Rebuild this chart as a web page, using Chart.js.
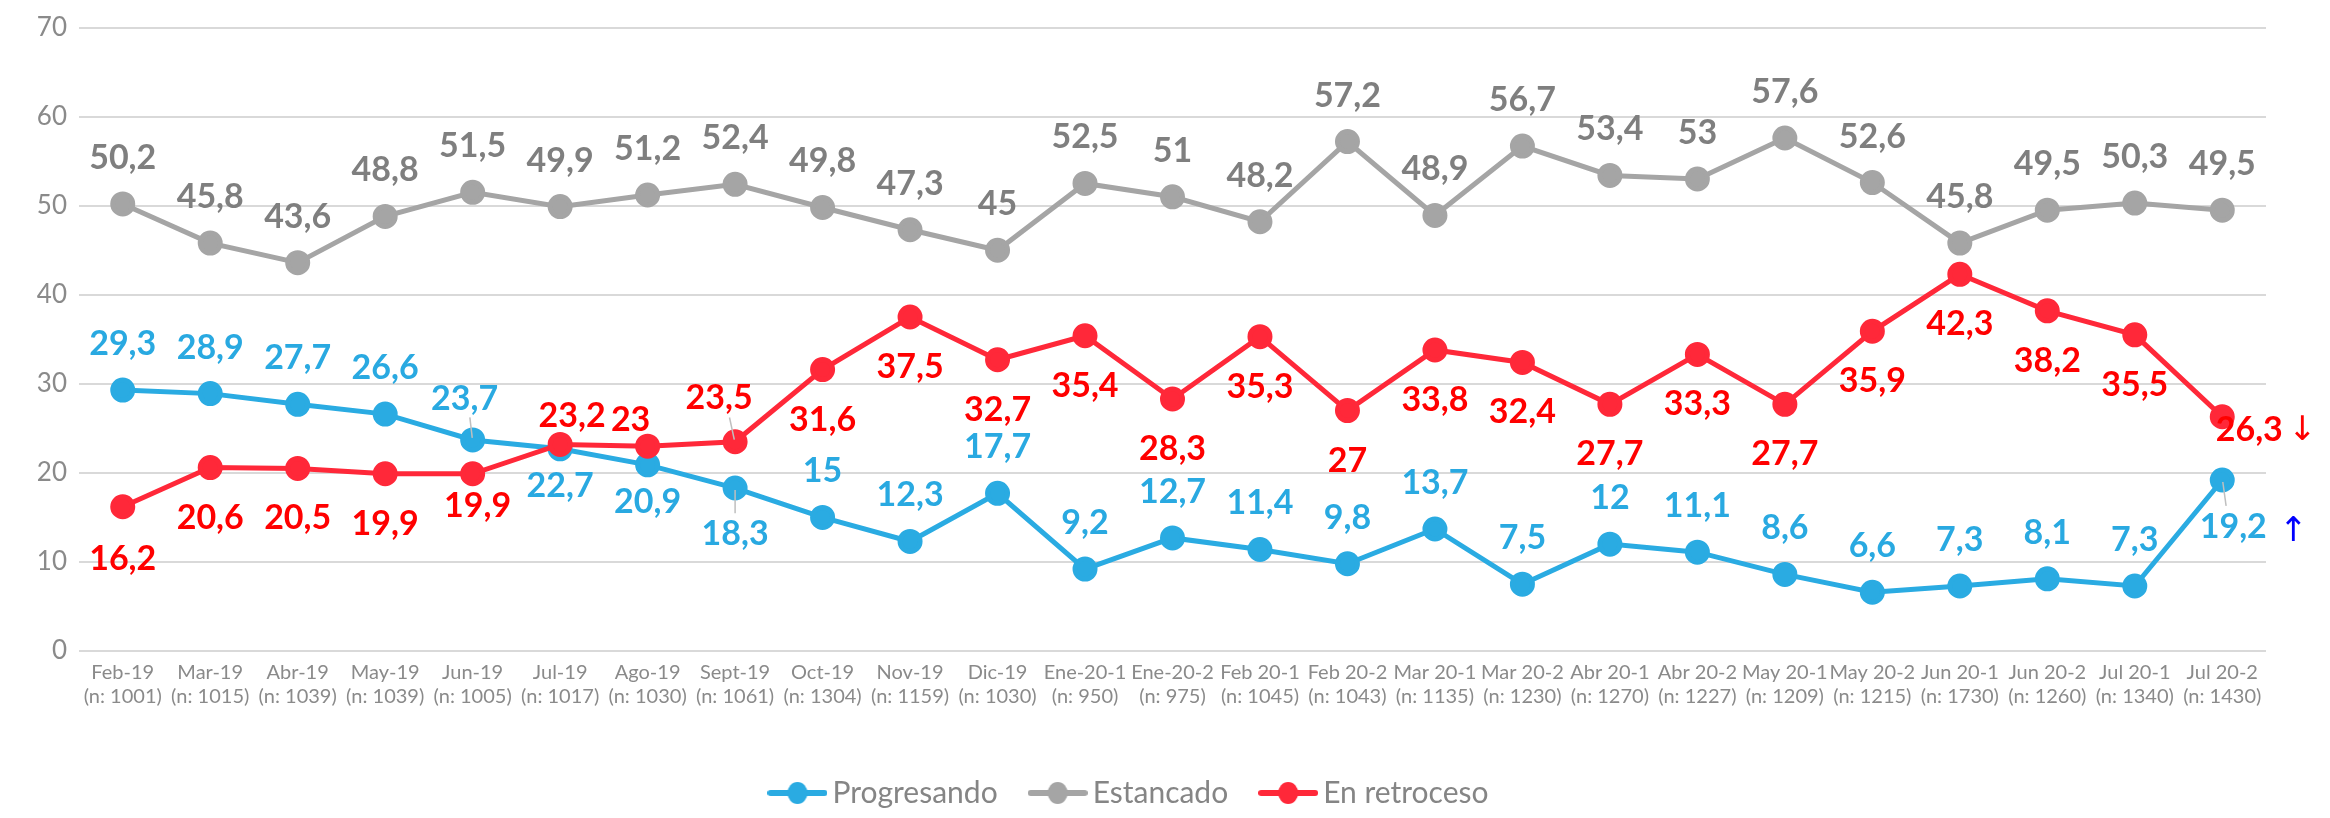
<!DOCTYPE html>
<html>
<head>
<meta charset="utf-8">
<script src="https://cdn.jsdelivr.net/npm/chart.js@4.4.1/dist/chart.umd.min.js"></script>
<style>
  html, body { margin: 0; padding: 0; background: #ffffff; }
  #wrap { width: 2330px; height: 818px; position: relative; }
</style>
</head>
<body>
<div id="wrap"><canvas id="chart"></canvas></div>
<script>
// ---------- DATA ----------
const months = ["Feb-19", "Mar-19", "Abr-19", "May-19", "Jun-19", "Jul-19", "Ago-19", "Sept-19", "Oct-19", "Nov-19", "Dic-19", "Ene-20-1", "Ene-20-2", "Feb 20-1", "Feb 20-2", "Mar 20-1", "Mar 20-2", "Abr 20-1", "Abr 20-2", "May 20-1", "May 20-2", "Jun 20-1", "Jun 20-2", "Jul 20-1", "Jul 20-2"];
const sampleSizes = ["(n: 1001)", "(n: 1015)", "(n: 1039)", "(n: 1039)", "(n: 1005)", "(n: 1017)", "(n: 1030)", "(n: 1061)", "(n: 1304)", "(n: 1159)", "(n: 1030)", "(n: 950)", "(n: 975)", "(n: 1045)", "(n: 1043)", "(n: 1135)", "(n: 1230)", "(n: 1270)", "(n: 1227)", "(n: 1209)", "(n: 1215)", "(n: 1730)", "(n: 1260)", "(n: 1340)", "(n: 1430)"];
const progresando = [29.3, 28.9, 27.7, 26.6, 23.7, 22.7, 20.9, 18.3, 15, 12.3, 17.7, 9.2, 12.7, 11.4, 9.8, 13.7, 7.5, 12, 11.1, 8.6, 6.6, 7.3, 8.1, 7.3, 19.2];
const estancado = [50.2, 45.8, 43.6, 48.8, 51.5, 49.9, 51.2, 52.4, 49.8, 47.3, 45, 52.5, 51, 48.2, 57.2, 48.9, 56.7, 53.4, 53, 57.6, 52.6, 45.8, 49.5, 50.3, 49.5];
const enRetroceso = [16.2, 20.6, 20.5, 19.9, 19.9, 23.2, 23, 23.5, 31.6, 37.5, 32.7, 35.4, 28.3, 35.3, 27, 33.8, 32.4, 27.7, 33.3, 27.7, 35.9, 42.3, 38.2, 35.5, 26.3];
const seriesNames = ["Progresando", "Estancado", "En retroceso"];
const yTicks = [0, 10, 20, 30, 40, 50, 60, 70];
const trendArrows = ["\u2193", "\u2191"]; // down (En retroceso), up (Progresando)

// ---------- STYLE ----------
const COLORS = {
  blue: "#2AABE2", blueLabel: "#29A9E1",
  gray: "#A5A5A5", grayLabel: "#7F7F7F",
  red: "#FF2839", redLabel: "#FF0000",
  grid: "#D9D9D9", axisText: "#8A8A8A"
};
const FONT = "Lato, 'Open Sans', sans-serif";

// label placement [dx, dy] per point (style only)
const ABOVE = [0, -46], BELOW = [0, 50];
function placeProgresando(i) {
  const special = {4: [-8, -41], 5: [0, 37], 6: [0, 37], 7: [0, 46], 24: [11, 47]};
  return special[i] || ABOVE;
}
function placeEstancado(i) { return ABOVE; }
function placeRetroceso(i) {
  const special = {0: [0, 52], 4: [5, 32], 5: [12, -28], 6: [-17, -26], 7: [-16, -44], 24: [27, 13]};
  return special[i] || BELOW;
}
const placements = [placeProgresando, placeEstancado, placeRetroceso];
const labelColors = [COLORS.blueLabel, COLORS.grayLabel, COLORS.redLabel];

function legendIcon(color) {
  const c = document.createElement("canvas");
  c.width = 60; c.height = 24;
  const g = c.getContext("2d");
  g.strokeStyle = color; g.lineWidth = 6; g.lineCap = "round";
  g.beginPath(); g.moveTo(3, 12); g.lineTo(57, 12); g.stroke();
  g.fillStyle = color;
  g.beginPath(); g.ellipse(30, 12, 10, 11, 0, 0, Math.PI * 2); g.fill();
  return c;
}

const valueLabels = {
  id: "valueLabels",
  afterDatasetsDraw(chart) {
    const ctx = chart.ctx;
    ctx.save();
    ctx.font = "bold 34px " + FONT;
    ctx.textAlign = "center";
    ctx.textBaseline = "middle";
    // leader lines
    ctx.strokeStyle = "#BFBFBF"; ctx.lineWidth = 1.5;
    const leaders = [[0, 4], [2, 7], [0, 7], [0, 24]];
    leaders.forEach(([di, i]) => {
      const p = chart.getDatasetMeta(di).data[i];
      const [dx, dy] = placements[di](i);
      const s = Math.sign(dy);
      ctx.beginPath();
      ctx.moveTo(p.x + dx * 0.35, p.y + dy * 0.55);
      ctx.lineTo(p.x + dx * 0.05, p.y + s * 2);
      ctx.stroke();
    });
    chart.data.datasets.forEach((ds, di) => {
      const meta = chart.getDatasetMeta(di);
      ctx.fillStyle = labelColors[di];
      meta.data.forEach((pt, i) => {
        const [dx, dy] = placements[di](i);
        ctx.fillText(String(ds.data[i]).replace(".", ","), pt.x + dx, pt.y + dy);
      });
    });
    // trend arrows next to the last points
    const lastRed = chart.getDatasetMeta(2).data[enRetroceso.length - 1];
    const lastBlue = chart.getDatasetMeta(0).data[progresando.length - 1];
    ctx.font = "34px 'DejaVu Sans', sans-serif";
    ctx.fillStyle = "#FF0000";
    ctx.fillText(trendArrows[0], lastRed.x + 80, lastRed.y + 14);
    ctx.fillStyle = "#0000FF";
    ctx.fillText(trendArrows[1], lastBlue.x + 71, lastBlue.y + 52);
    ctx.restore();
  }
};

const lineColors = [COLORS.blue, COLORS.gray, COLORS.red];
const seriesData = [progresando, estancado, enRetroceso];

const datasets = seriesData.map((d, k) => ({
  label: seriesNames[k],
  data: d,
  borderColor: lineColors[k],
  backgroundColor: lineColors[k],
  pointBackgroundColor: lineColors[k],
  pointBorderColor: lineColors[k],
  borderWidth: 5,
  pointRadius: 10,
  pointHoverRadius: 10,
  tension: 0,
  fill: false
}));
// draw order: gray under, blue, red on top
datasets[1].order = 3; datasets[0].order = 2; datasets[2].order = 1;

new Chart(document.getElementById("chart"), {
  type: "line",
  data: { labels: months, datasets },
  options: {
    responsive: true,
    maintainAspectRatio: false,
    animation: false,
    devicePixelRatio: 1,
    layout: { padding: { left: 0, right: 64, top: 21, bottom: 0 } },
    plugins: {
      tooltip: { enabled: false },
      legend: {
        position: "bottom",
        labels: {
          usePointStyle: true,
          pointStyleWidth: 40,
          padding: 40,
          color: "#858585",
          font: { family: FONT, size: 30 },
          generateLabels(chart) {
            return seriesNames.map((n, k) => ({
              text: n,
              fillStyle: lineColors[k],
              strokeStyle: lineColors[k],
              lineWidth: 0,
              pointStyle: legendIcon(lineColors[k]),
              datasetIndex: k,
              hidden: false,
              fontColor: "#858585"
            }));
          }
        }
      }
    },
    scales: {
      x: {
        offset: true,
        grid: { display: false, drawTicks: false, offset: true },
        border: { display: false },
        ticks: {
          autoSkip: false, maxRotation: 0, minRotation: 0,
          padding: 10,
          color: COLORS.axisText,
          font: { family: FONT, size: 20 },
          callback: (v, i) => [months[i], sampleSizes[i]]
        },
        afterFit(axis) { axis.height = 87; }
      },
      y: {
        min: yTicks[0], max: yTicks[yTicks.length - 1],
        afterBuildTicks(axis) { axis.ticks = yTicks.map(v => ({ value: v })); },
        grid: { color: COLORS.grid, lineWidth: 2, drawTicks: false },
        border: { display: false },
        ticks: {
          padding: 12,
          color: COLORS.axisText,
          font: { family: FONT, size: 26 }
        },
        afterFit(axis) { axis.width = 79; }
      }
    }
  },
  plugins: [valueLabels]
});
</script>
</body>
</html>
